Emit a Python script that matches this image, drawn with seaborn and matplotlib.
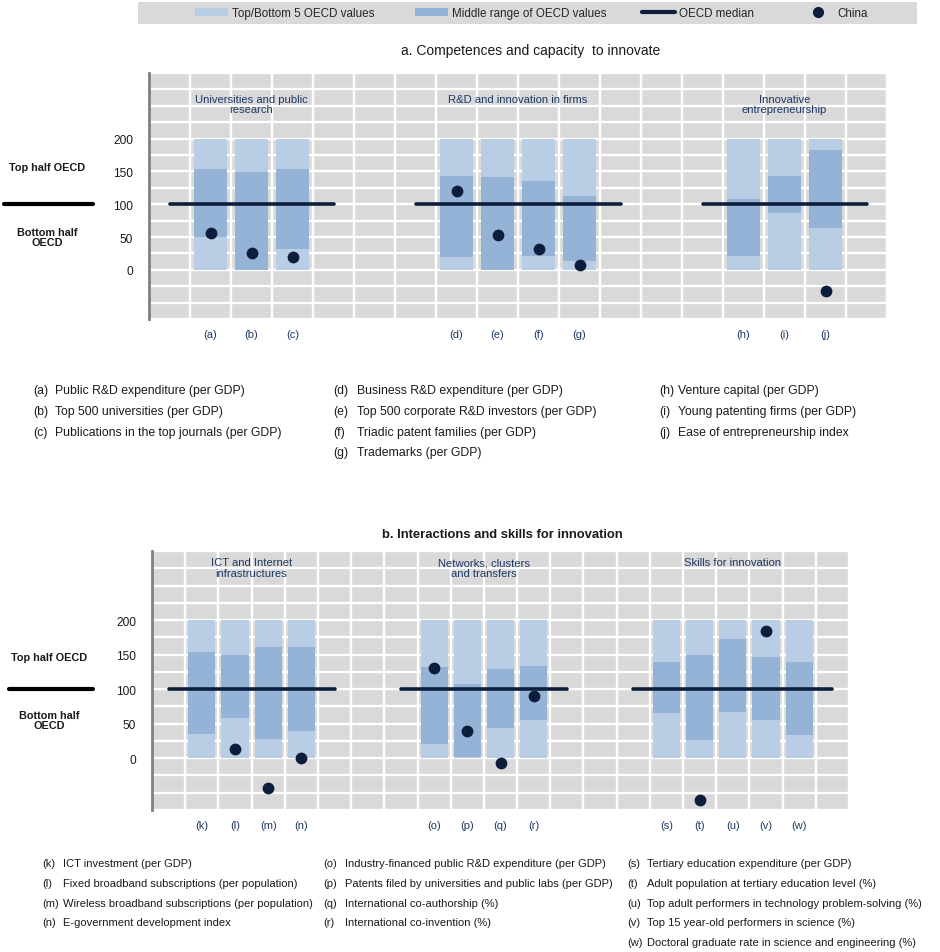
import numpy as np
import pandas as pd
import matplotlib
matplotlib.use("Agg")
import matplotlib.pyplot as plt
import seaborn as sns
from matplotlib.patches import Patch, Rectangle
from matplotlib.lines import Line2D

# ---------------------------------------------------------------------------
# Data (normalised: OECD median = 100, top/bottom 5 range spans 0-200)
# ---------------------------------------------------------------------------
MEDIAN = 100
TOP = 200
nan = np.nan

a_groups = ["Universities and public\nresearch", "R&D and innovation in firms",
            "Innovative\nentrepreneurship"]
a_codes = [["(a)", "(b)", "(c)"], ["(d)", "(e)", "(f)", "(g)"], ["(h)", "(i)", "(j)"]]
a_mid_low = [50, 0, 32, 20, 0, 21, 14, 21, 86, 64]
a_mid_high = [154, 149, 154, 143, 141, 136, 112, 108, 143, 183]
a_china = [56, 25, 19, 120, 53, 31, 7, nan, nan, -33]
a_notes = [
    ["Public R&D expenditure (per GDP)", "Top 500 universities (per GDP)",
     "Publications in the top journals (per GDP)"],
    ["Business R&D expenditure (per GDP)", "Top 500 corporate R&D investors (per GDP)",
     "Triadic patent families (per GDP)", "Trademarks (per GDP)"],
    ["Venture capital (per GDP)", "Young patenting firms (per GDP)",
     "Ease of entrepreneurship index"],
]

b_groups = ["ICT and Internet\ninfrastructures", "Networks, clusters\nand transfers",
            "Skills for innovation"]
b_codes = [["(k)", "(l)", "(m)", "(n)"], ["(o)", "(p)", "(q)", "(r)"],
           ["(s)", "(t)", "(u)", "(v)", "(w)"]]
b_mid_low = [35, 58, 28, 40, 20, 2, 44, 55, 66, 26, 67, 55, 33]
b_mid_high = [154, 150, 161, 161, 132, 107, 129, 134, 139, 150, 172, 147, 139]
b_china = [nan, 13, -43, 0, 130, 40, -7, 90, nan, -60, nan, 184, nan]
b_notes = [
    ["ICT investment (per GDP)", "Fixed broadband subscriptions (per population)",
     "Wireless broadband subscriptions (per population)", "E-government development index"],
    ["Industry-financed public R&D expenditure (per GDP)",
     "Patents filed by universities and public labs (per GDP)",
     "International co-authorship (%)", "International co-invention (%)"],
    ["Tertiary education expenditure (per GDP)", "Adult population at tertiary education level (%)",
     "Top adult performers in technology problem-solving (%)",
     "Top 15 year-old performers in science (%)",
     "Doctoral graduate rate in science and engineering (%)"],
]

legend_labels = ["Top/Bottom 5 OECD values", "Middle range of OECD values",
                 "OECD median", "China"]

# ---------------------------------------------------------------------------
# Style
# ---------------------------------------------------------------------------
BG = "#d9d9d9"
LIGHT = "#b9cde5"
MID = "#95b3d7"
NAVY = "#0c1e3c"
GROUP_TXT = "#1f3864"
TXT = "#1a1a1a"

sns.set_theme(style="white")
plt.rcParams["font.family"] = ["Liberation Sans", "DejaVu Sans"]

W, H = 940, 953
fig = plt.figure(figsize=(W / 100, H / 100), dpi=100)


def fx(x):
    return x / W


def fy(y):
    return 1 - y / H


def slots(codes, gap=3):
    """Slot index of every indicator; groups are separated by empty slots."""
    pos, spans, cur = [], [], 1
    for grp in codes:
        p = list(range(cur, cur + len(grp)))
        pos += p
        spans.append((p[0], p[-1]))
        cur += len(grp) + gap
    return pos, spans, cur - gap + 1


def draw_panel(rect, groups, codes, low, high, china, label_y):
    ax = fig.add_axes(rect)
    pos, spans, n_slots = slots(codes)
    flat = [c for g in codes for c in g]
    df = pd.DataFrame({"pos": pos, "code": flat, "top": TOP,
                       "low": low, "high": high, "china": china})
    ax.set_facecolor(BG)
    ax.set_axisbelow(True)
    common = dict(x="pos", native_scale=True, width=0.82, saturation=1,
                  errorbar=None, linewidth=0, ax=ax)
    sns.barplot(data=df, y="top", color=LIGHT, zorder=2, **common)
    sns.barplot(data=df, y="high", color=MID, zorder=2, **common)
    sns.barplot(data=df, y="low", color=LIGHT, zorder=2, **common)

    for first, last in spans:
        ax.plot([first - 1, last + 1], [MEDIAN, MEDIAN], color=NAVY, lw=2.6,
                solid_capstyle="round", zorder=4)

    dots = df.dropna(subset=["china"])
    sns.scatterplot(data=dots, x="pos", y="china", s=72, color=NAVY,
                    edgecolor=NAVY, linewidth=0, zorder=5, legend=False, ax=ax)

    for (first, last), name in zip(spans, groups):
        ax.text((first + last) / 2, label_y, name, ha="center", va="top",
                color=GROUP_TXT, fontsize=8.1, linespacing=1.05)

    ax.set_xlim(-0.5, n_slots - 0.5)
    ax.set_ylim(-75, 300)
    ax.set_xticks(pos)
    ax.set_xticklabels(flat, fontsize=8, color=GROUP_TXT)
    ax.set_xticks(np.arange(-0.5, n_slots, 1), minor=True)
    ax.set_yticks([0, 50, 100, 150, 200])
    ax.set_yticks(np.arange(-75, 301, 25), minor=True)
    ax.tick_params(axis="y", which="both", direction="in", length=3,
                   color="#8c8c8c", width=1, labelsize=8.6, pad=11.5, labelcolor=TXT)
    ax.tick_params(axis="x", which="both", length=0, pad=7)
    ax.grid(which="minor", axis="both", color="white", lw=1.7)
    ax.grid(which="major", axis="y", color="white", lw=1.7)
    ax.grid(which="major", axis="x", visible=False)
    ax.set_xlabel("")
    ax.set_ylabel("")
    for s in ("top", "right", "bottom"):
        ax.spines[s].set_visible(False)
    ax.spines["left"].set_color("#808080")
    ax.spines["left"].set_linewidth(2)
    return ax


def side_labels(y_top, y_line, y_bottom, x0, x1, xc):
    fig.text(fx(xc), fy(y_top), "Top half OECD", ha="center", va="center",
             fontsize=7.8, fontweight="bold", color=TXT)
    fig.add_artist(Line2D([fx(x0), fx(x1)], [fy(y_line), fy(y_line)],
                          color="black", lw=3, transform=fig.transFigure))
    fig.text(fx(xc), fy(y_bottom), "Bottom half\nOECD", ha="center", va="center",
             fontsize=7.8, fontweight="bold", color=TXT, linespacing=1.1)


def notes(codes, texts, col_x, offsets, y0, dy, size):
    for grp, txts, x, off in zip(codes, texts, col_x, offsets):
        for i, (c, t) in enumerate(zip(grp, txts)):
            y = y0 + i * dy
            fig.text(fx(x), fy(y), c, ha="left", va="center", fontsize=size, color=TXT)
            fig.text(fx(x + off), fy(y), t, ha="left", va="center", fontsize=size,
                     color=TXT)


# ---------------------------------------------------------------------------
# Legend strip
# ---------------------------------------------------------------------------
fig.patches.append(Rectangle((fx(138), fy(25)), fx(917) - fx(138), 22 / H,
                             transform=fig.transFigure, facecolor=BG,
                             edgecolor="none", zorder=0))
handles = [
    Patch(facecolor=LIGHT, edgecolor="none"),
    Patch(facecolor=MID, edgecolor="none"),
    Line2D([0], [0], color=NAVY, lw=3),
    Line2D([0], [0], marker="o", color="none", markerfacecolor=NAVY,
           markeredgecolor=NAVY, markersize=7),
]
for h, lab, x0 in zip(handles, legend_labels, [195, 415, 642, 801]):
    fig.legend([h], [lab], loc="center left", bbox_to_anchor=(fx(x0), fy(14)),
               frameon=False, fontsize=8.4, handlelength=2.85, handleheight=0.6,
               handletextpad=0.3, borderpad=0, borderaxespad=0)

# ---------------------------------------------------------------------------
# Panel a
# ---------------------------------------------------------------------------
fig.text(fx(531), fy(51), "a. Competences and capacity  to innovate",
         ha="center", va="center", fontsize=10, color=TXT)
draw_panel([fx(149), fy(320), fx(887) - fx(149), (320 - 74) / H],
           a_groups, a_codes, a_mid_low, a_mid_high, a_china, label_y=268)
side_labels(168, 205, 238, 4, 93, 47)
notes(a_codes, a_notes, [33, 333, 659], [22, 24, 19], 391, 20.8, 8.8)

# ---------------------------------------------------------------------------
# Panel b
# ---------------------------------------------------------------------------
fig.text(fx(502), fy(535), "b. Interactions and skills for innovation",
         ha="center", va="center", fontsize=9.4, fontweight="semibold", color=TXT)
draw_panel([fx(152), fy(811), fx(849) - fx(152), (811 - 552) / H],
           b_groups, b_codes, b_mid_low, b_mid_high, b_china, label_y=291)
side_labels(658, 690, 721, 9, 93, 49)
notes(b_codes, b_notes, [42.7, 323, 627], [20, 22, 20], 864, 19.8, 8.0)

fig.savefig("out.png", dpi=100)
